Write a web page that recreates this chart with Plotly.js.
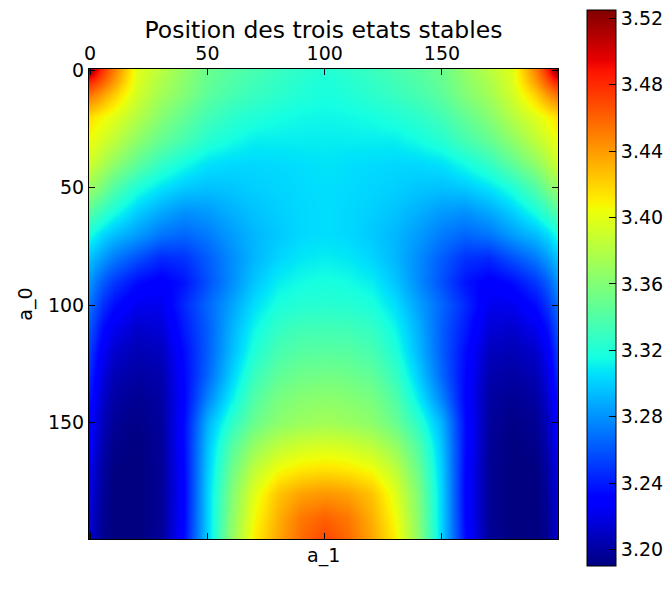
<!DOCTYPE html>
<html>
<head>
<meta charset="utf-8">
<script src="https://cdn.plot.ly/plotly-3.0.1.min.js"></script>
<style>html,body{margin:0;padding:0;background:#fff;}#chart{width:672px;height:595px;}</style>
</head>
<body>
<div id="chart"></div>
<script>
// column positions (a_1) and row positions (a_0) of the sampled values
var colsA1 = [0,5,10,20,30,40,50,60,70,80,90,100,110,120,130,140,150,160,170,180,190,195,199];
var rowsA0 = [0,5,10,20,30,40,50,60,70,80,90,100,110,120,130,140,150,160,170,180,190,199];

var row000 = [3.518,3.478,3.45,3.398,3.382,3.366,3.35,3.342,3.336,3.33,3.325,3.32, 3.325,3.33,3.336,3.342,3.35,3.366,3.382,3.398,3.45,3.482,3.522];
var row005 = [3.48,3.462,3.44,3.396,3.377,3.363,3.348,3.339,3.333,3.327,3.322,3.318, 3.322,3.327,3.333,3.339,3.348,3.363,3.377,3.396,3.44,3.464,3.484];
var row010 = [3.455,3.44,3.423,3.392,3.373,3.36,3.345,3.336,3.33,3.325,3.32,3.317, 3.32,3.325,3.33,3.336,3.345,3.36,3.373,3.392,3.423,3.442,3.457];
var row020 = [3.415,3.407,3.398,3.38,3.361,3.347,3.334,3.325,3.32,3.316,3.314,3.313, 3.314,3.316,3.32,3.325,3.334,3.347,3.361,3.38,3.398,3.407,3.415];
var row030 = [3.403,3.393,3.384,3.364,3.347,3.335,3.322,3.315,3.31,3.31,3.31,3.31, 3.31,3.31,3.31,3.315,3.322,3.335,3.347,3.364,3.384,3.393,3.403];
var row040 = [3.39,3.378,3.365,3.345,3.327,3.315,3.306,3.303,3.303,3.304,3.305,3.307, 3.305,3.304,3.303,3.303,3.306,3.315,3.327,3.345,3.365,3.378,3.39];
var row050 = [3.368,3.355,3.34,3.319,3.306,3.298,3.295,3.297,3.30,3.302,3.304,3.305, 3.304,3.302,3.30,3.297,3.295,3.298,3.306,3.319,3.34,3.355,3.368];
var row060 = [3.342,3.33,3.318,3.3,3.288,3.28,3.283,3.29,3.296,3.30,3.303,3.305, 3.303,3.30,3.296,3.29,3.283,3.28,3.288,3.30,3.318,3.33,3.342];
var row070 = [3.316,3.303,3.294,3.283,3.27,3.265,3.272,3.283,3.292,3.298,3.303,3.305, 3.303,3.298,3.292,3.283,3.272,3.265,3.27,3.283,3.294,3.303,3.316];
var row080 = [3.295,3.283,3.272,3.258,3.245,3.248,3.262,3.278,3.292,3.302,3.308,3.31, 3.308,3.302,3.292,3.278,3.262,3.248,3.245,3.258,3.272,3.283,3.295];
var row090 = [3.28,3.262,3.25,3.235,3.228,3.238,3.258,3.278,3.297,3.31,3.315,3.317, 3.315,3.31,3.297,3.278,3.258,3.238,3.228,3.235,3.25,3.262,3.28];
var row100 = [3.268,3.248,3.235,3.222,3.222,3.245,3.265,3.285,3.305,3.318,3.322,3.323, 3.322,3.318,3.305,3.285,3.265,3.245,3.222,3.222,3.235,3.248,3.268];
var row110 = [3.258,3.235,3.222,3.212,3.215,3.24,3.262,3.29,3.313,3.328,3.333,3.334, 3.333,3.328,3.313,3.29,3.262,3.24,3.215,3.212,3.222,3.235,3.258];
var row120 = [3.25,3.225,3.212,3.205,3.208,3.235,3.262,3.293,3.32,3.336,3.342,3.343, 3.342,3.336,3.32,3.293,3.262,3.235,3.208,3.205,3.212,3.225,3.25];
var row130 = [3.243,3.218,3.205,3.20,3.203,3.233,3.265,3.30,3.33,3.346,3.352,3.354, 3.352,3.346,3.33,3.30,3.265,3.233,3.203,3.20,3.205,3.218,3.243];
var row140 = [3.236,3.212,3.20,3.195,3.20,3.232,3.275,3.31,3.34,3.356,3.362,3.364, 3.362,3.356,3.34,3.31,3.275,3.232,3.20,3.195,3.20,3.212,3.236];
var row150 = [3.23,3.207,3.196,3.192,3.198,3.235,3.29,3.325,3.35,3.364,3.37,3.373, 3.37,3.364,3.35,3.325,3.29,3.235,3.198,3.192,3.196,3.207,3.23];
var row160 = [3.225,3.204,3.193,3.19,3.197,3.235,3.295,3.34,3.368,3.384,3.392,3.395, 3.392,3.384,3.368,3.34,3.295,3.235,3.197,3.19,3.193,3.204,3.225];
var row170 = [3.22,3.20,3.19,3.19,3.196,3.233,3.298,3.35,3.385,3.405,3.413,3.416, 3.413,3.405,3.385,3.35,3.298,3.233,3.196,3.19,3.19,3.20,3.22];
var row180 = [3.217,3.198,3.19,3.19,3.196,3.232,3.30,3.358,3.398,3.425,3.437,3.441, 3.437,3.425,3.398,3.358,3.30,3.232,3.196,3.19,3.19,3.198,3.217];
var row190 = [3.214,3.196,3.19,3.19,3.196,3.233,3.30,3.362,3.405,3.432,3.452,3.46, 3.452,3.432,3.405,3.362,3.30,3.233,3.196,3.19,3.19,3.196,3.214];
var row199 = [3.212,3.195,3.19,3.19,3.197,3.235,3.30,3.365,3.41,3.436,3.457,3.47, 3.457,3.436,3.41,3.365,3.30,3.235,3.197,3.19,3.19,3.195,3.212];

var axisTicks = [0,50,100,150];
var cbarTicks = [3.20,3.24,3.28,3.32,3.36,3.40,3.44,3.48,3.52];
var cbarLabels = ['3.20','3.24','3.28','3.32','3.36','3.40','3.44','3.48','3.52'];

var zGrid = [row000,row005,row010,row020,row030,row040,row050,row060,row070,row080,row090,
             row100,row110,row120,row130,row140,row150,row160,row170,row180,row190,row199];

var jet = [
  [0,'rgb(0,0,128)'],[0.11,'rgb(0,0,255)'],[0.125,'rgb(0,0,255)'],
  [0.34,'rgb(0,219,255)'],[0.35,'rgb(0,229,247)'],[0.375,'rgb(21,255,226)'],
  [0.64,'rgb(239,255,8)'],[0.65,'rgb(247,245,0)'],[0.66,'rgb(255,236,0)'],
  [0.89,'rgb(255,19,0)'],[0.91,'rgb(232,0,0)'],[1,'rgb(128,0,0)']
];

var font = 'DejaVu Sans, sans-serif';

var trace = {
  type: 'heatmap',
  x: colsA1,
  y: rowsA0,
  z: zGrid,
  zsmooth: 'best',
  colorscale: jet,
  zmin: 3.19,
  zmax: 3.525,
  hoverinfo: 'skip',
  colorbar: {
    thickness: 29,
    x: 1.0618, xanchor: 'left', xpad: 0,
    lenmode: 'pixels', len: 556,
    y: 1.1255, yanchor: 'top', ypad: 0,
    outlinewidth: 1, outlinecolor: '#000',
    tickmode: 'array', tickvals: cbarTicks, ticktext: cbarLabels,
    ticks: 'inside', ticklen: 7, tickcolor: '#000', tickwidth: 1,
    tickfont: {family: font, size: 19, color: '#000'}
  }
};

var layout = {
  width: 672, height: 595,
  margin: {l: 89, r: 114, t: 69, b: 56, pad: 0, autoexpand: false},
  paper_bgcolor: '#fff', plot_bgcolor: '#fff',
  font: {family: font, color: '#000'},
  title: {
    text: 'Position des trois etats stables',
    font: {family: font, size: 23.5, color: '#000'},
    x: 0.5, xref: 'paper', xanchor: 'center',
    y: 1 - 30/595, yref: 'container', yanchor: 'middle'
  },
  xaxis: {
    side: 'top', range: [-0.5, 199.5], autorange: false,
    tickmode: 'array', tickvals: axisTicks, ticktext: axisTicks.map(String),
    ticks: 'inside', ticklen: 6, tickcolor: '#000', mirror: 'ticks',
    showline: true, linecolor: '#000', linewidth: 1,
    showgrid: false, zeroline: false,
    tickfont: {family: font, size: 19, color: '#000'}
  },
  yaxis: {
    range: [199.5, -0.5], autorange: false,
    tickmode: 'array', tickvals: axisTicks, ticktext: axisTicks.map(String),
    ticks: 'inside', ticklen: 6, tickcolor: '#000', mirror: 'ticks',
    showline: true, linecolor: '#000', linewidth: 1,
    showgrid: false, zeroline: false,
    tickfont: {family: font, size: 19, color: '#000'},
    title: {text: 'a_0', font: {family: font, size: 19, color: '#000'}, standoff: 10}
  },
  annotations: [{
    text: 'a_1', xref: 'paper', yref: 'paper', x: 0.5, y: -0.036,
    xanchor: 'center', yanchor: 'middle', showarrow: false,
    font: {family: font, size: 19, color: '#000'}
  }]
};

Plotly.newPlot('chart', [trace], layout, {displayModeBar: false, staticPlot: true});
</script>
</body>
</html>
